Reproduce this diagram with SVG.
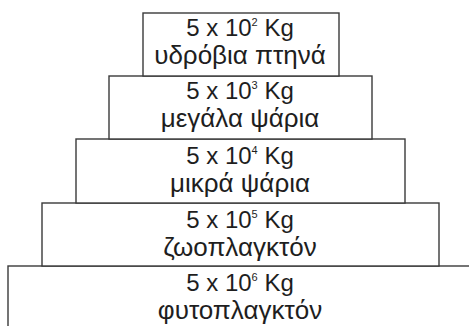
<svg xmlns="http://www.w3.org/2000/svg" width="469" height="326" viewBox="0 0 469 326">
<style>
.box{fill:#fff;stroke:#3a3a3a;stroke-width:1.4}
.t{font-family:"Liberation Sans",Arial,sans-serif;font-size:24px;fill:#1e1e1e;text-anchor:middle}
.g{font-size:26px}
.sup{font-size:11px}
</style>
<rect width="469" height="326" fill="#fff"/>
<g id="n5">
<rect class="box" x="8" y="266" width="470" height="70"/>
<text class="t" x="240" y="291">5 x 10<tspan class="sup" dy="-10">6</tspan><tspan dy="10"> Kg</tspan></text>
<text class="t g" x="240" y="319">φυτοπλαγκτόν</text>
</g>
<g id="n4">
<rect class="box" x="42" y="203" width="397" height="63"/>
<text class="t" x="240" y="228">5 x 10<tspan class="sup" dy="-10">5</tspan><tspan dy="10"> Kg</tspan></text>
<text class="t g" x="240" y="256">ζωοπλαγκτόν</text>
</g>
<g id="n3">
<rect class="box" x="76" y="139" width="329" height="64"/>
<text class="t" x="240" y="164">5 x 10<tspan class="sup" dy="-10">4</tspan><tspan dy="10"> Kg</tspan></text>
<text class="t g" x="240" y="192">μικρά ψάρια</text>
</g>
<g id="n2">
<rect class="box" x="109" y="76" width="263" height="63"/>
<text class="t" x="240" y="99">5 x 10<tspan class="sup" dy="-10">3</tspan><tspan dy="10"> Kg</tspan></text>
<text class="t g" x="240" y="127">μεγάλα ψάρια</text>
</g>
<g id="n1">
<rect class="box" x="143" y="13" width="196" height="63"/>
<text class="t" x="240" y="36">5 x 10<tspan class="sup" dy="-10">2</tspan><tspan dy="10"> Kg</tspan></text>
<text class="t g" x="240" y="64">υδρόβια πτηνά</text>
</g>
<g id="connectors"></g>
</svg>
